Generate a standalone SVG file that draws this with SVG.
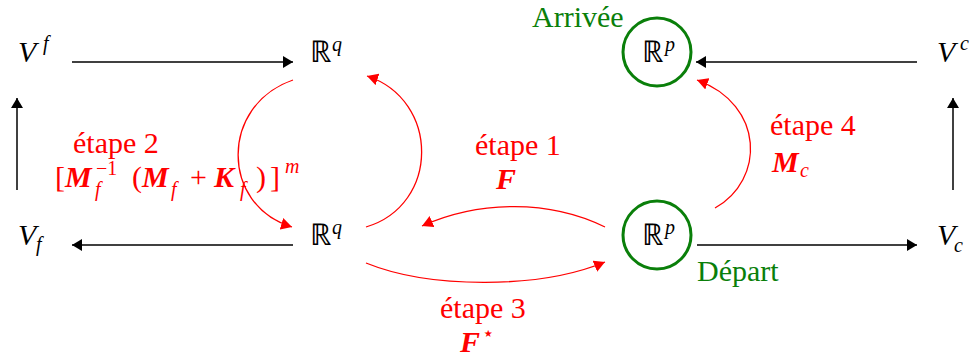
<svg xmlns="http://www.w3.org/2000/svg" width="973" height="362" viewBox="0 0 973 362">
<defs>
<marker id="ab" markerUnits="userSpaceOnUse" viewBox="0 0 10 12" refX="10" refY="6" markerWidth="10" markerHeight="12" orient="auto"><path d="M0,0 L10,6 L0,12 z" fill="#000"/></marker>
<marker id="ar" markerUnits="userSpaceOnUse" viewBox="0 0 11 12" refX="11" refY="6" markerWidth="11" markerHeight="12" orient="auto"><path d="M0,0 L11,6 L0,12 z" fill="#ff0000"/></marker>
</defs>
<rect width="973" height="362" fill="#fff"/>
<g id="n-Vf-top"><text x="18" y="62" font-family="Liberation Serif" font-size="30" font-style="italic" fill="#000">V</text><text x="43" y="50" font-family="Liberation Serif" font-size="20" font-style="italic" fill="#000">f</text></g>
<g id="n-Rq-top"><text x="310" y="62" font-family="Liberation Serif" font-size="30" fill="#000">ℝ</text><text x="332" y="51" font-family="Liberation Serif" font-size="20" font-style="italic" fill="#000">q</text></g>
<g id="n-Rp-top"><circle cx="657" cy="52" r="34" fill="none" stroke="#0a7f0a" stroke-width="3"/><text x="642" y="62" font-family="Liberation Serif" font-size="30" fill="#000">ℝ</text><text x="665" y="51" font-family="Liberation Serif" font-size="20" font-style="italic" fill="#000">p</text></g>
<g id="n-Vc-top"><text x="937" y="62" font-family="Liberation Serif" font-size="30" font-style="italic" fill="#000">V</text><text x="960" y="50" font-family="Liberation Serif" font-size="20" font-style="italic" fill="#000">c</text></g>
<g id="n-Vf-bot"><text x="18" y="245" font-family="Liberation Serif" font-size="30" font-style="italic" fill="#000">V</text><text x="36" y="251" font-family="Liberation Serif" font-size="20" font-style="italic" fill="#000">f</text></g>
<g id="n-Rq-bot"><text x="310" y="245" font-family="Liberation Serif" font-size="30" fill="#000">ℝ</text><text x="332" y="234" font-family="Liberation Serif" font-size="20" font-style="italic" fill="#000">q</text></g>
<g id="n-Rp-bot"><circle cx="657" cy="235" r="34" fill="none" stroke="#0a7f0a" stroke-width="3"/><text x="642" y="245" font-family="Liberation Serif" font-size="30" fill="#000">ℝ</text><text x="665" y="234" font-family="Liberation Serif" font-size="20" font-style="italic" fill="#000">p</text></g>
<g id="n-Vc-bot"><text x="937" y="245" font-family="Liberation Serif" font-size="30" font-style="italic" fill="#000">V</text><text x="954" y="252" font-family="Liberation Serif" font-size="20" font-style="italic" fill="#000">c</text></g>
<g id="connectors" fill="none">
<g stroke="#000" stroke-width="1.5" marker-end="url(#ab)">
<path d="M72,62 H293"/>
<path d="M293,245 H72"/>
<path d="M17,190 V98"/>
<path d="M917,62 H696"/>
<path d="M697,245 H917"/>
<path d="M953,190 V98"/>
</g>
<g stroke="#ff0000" stroke-width="1.3" marker-end="url(#ar)">
<path d="M293,80 C220,105 220,205 292,227"/>
<path d="M366,227 C440,205 440,100 367,76"/>
<path d="M605,227 C550,200 480,200 422,226"/>
<path d="M366,263 C430,289 540,289 605,262"/>
<path d="M715,208 C765,180 765,105 697,80"/>
</g>
</g>
<g id="labels">
<text x="73" y="153" font-family="Liberation Serif" font-size="30" fill="#ff0000">étape 2</text>
<text x="55" y="187" font-family="Liberation Serif" font-size="30" fill="#ff0000">[</text>
<text x="65" y="187" font-family="Liberation Serif" font-size="30" font-style="italic" font-weight="bold" fill="#ff0000">M</text>
<text x="96" y="175" font-family="Liberation Serif" font-size="20" fill="#ff0000">−1</text>
<text x="95" y="196" font-family="Liberation Serif" font-size="20" font-style="italic" fill="#ff0000">f</text>
<text x="132" y="187" font-family="Liberation Serif" font-size="30" fill="#ff0000">(</text>
<text x="142" y="187" font-family="Liberation Serif" font-size="30" font-style="italic" font-weight="bold" fill="#ff0000">M</text>
<text x="171" y="196" font-family="Liberation Serif" font-size="20" font-style="italic" fill="#ff0000">f</text>
<text x="190" y="187" font-family="Liberation Serif" font-size="30" fill="#ff0000">+</text>
<text x="214" y="187" font-family="Liberation Serif" font-size="30" font-style="italic" font-weight="bold" fill="#ff0000">K</text>
<text x="240" y="196" font-family="Liberation Serif" font-size="20" font-style="italic" fill="#ff0000">f</text>
<text x="256" y="187" font-family="Liberation Serif" font-size="30" fill="#ff0000">)</text>
<text x="270" y="187" font-family="Liberation Serif" font-size="30" fill="#ff0000">]</text>
<text x="285" y="173" font-family="Liberation Serif" font-size="20" font-style="italic" fill="#ff0000">m</text>
<text x="475" y="155" font-family="Liberation Serif" font-size="30" fill="#ff0000">étape 1</text>
<text x="496" y="189" font-family="Liberation Serif" font-size="30" font-style="italic" font-weight="bold" fill="#ff0000">F</text>
<text x="440" y="318" font-family="Liberation Serif" font-size="30" fill="#ff0000">étape 3</text>
<text x="460" y="352" font-family="Liberation Serif" font-size="30" font-style="italic" font-weight="bold" fill="#ff0000">F</text>
<text x="482" y="340" font-family="Liberation Serif" font-size="20" fill="#ff0000">⋆</text>
<text x="770" y="135" font-family="Liberation Serif" font-size="30" fill="#ff0000">étape 4</text>
<text x="772" y="172" font-family="Liberation Serif" font-size="30" font-style="italic" font-weight="bold" fill="#ff0000">M</text>
<text x="800" y="177" font-family="Liberation Serif" font-size="20" font-style="italic" fill="#ff0000">c</text>
<text x="532" y="27" font-family="Liberation Serif" font-size="30" fill="#0a7f0a">Arrivée</text>
<text x="697" y="281" font-family="Liberation Serif" font-size="30" fill="#0a7f0a">Départ</text>
</g>
</svg>
